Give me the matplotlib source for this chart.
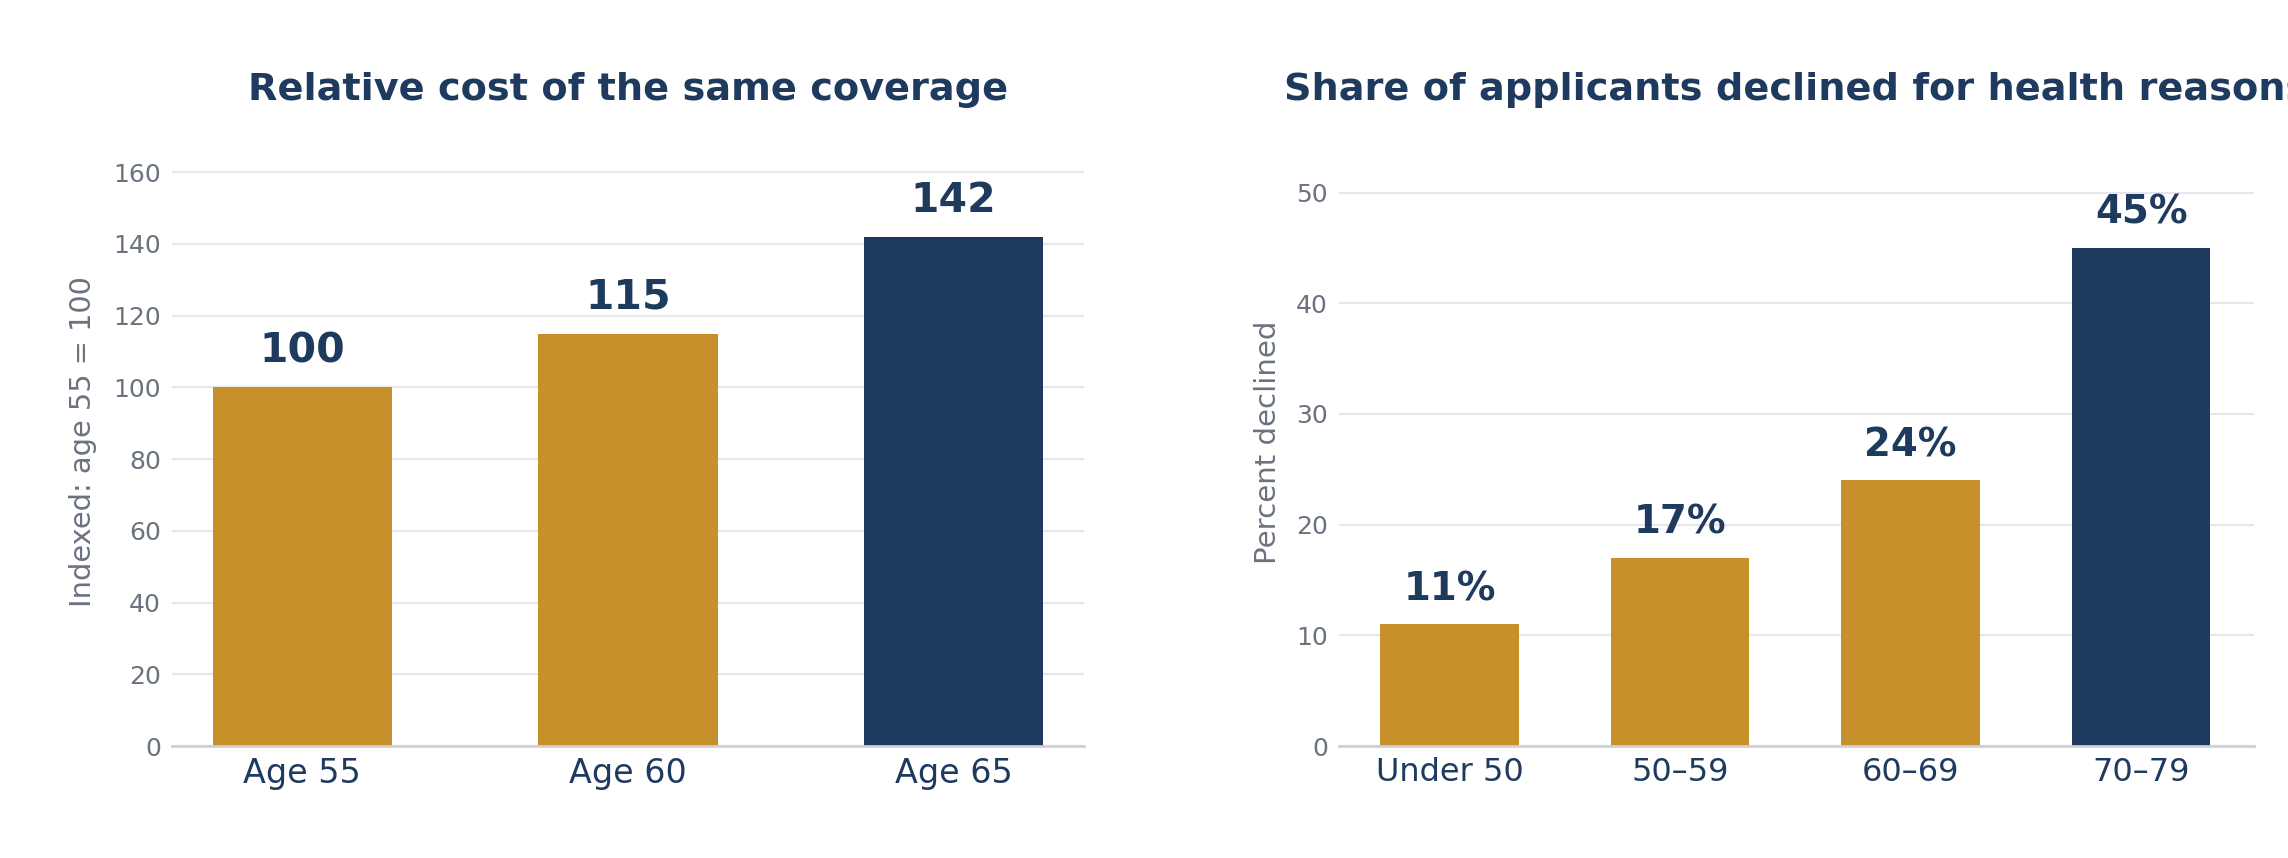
import matplotlib
matplotlib.use("Agg")
import matplotlib.pyplot as plt

# ---- data ----
cost_categories = ["Age 55", "Age 60", "Age 65"]
cost_values = [100, 115, 142]
cost_labels = ["100", "115", "142"]
cost_ticks = [0, 20, 40, 60, 80, 100, 120, 140, 160]

decline_categories = ["Under 50", "50–59", "60–69", "70–79"]
decline_values = [11, 17, 24, 45]
decline_labels = ["11%", "17%", "24%", "45%"]
decline_ticks = [0, 10, 20, 30, 40, 50]

title_left = "Relative cost of the same coverage"
title_right = "Share of applicants declined for health reasons"
ylabel_left = "Indexed: age 55 = 100"
ylabel_right = "Percent declined"

GOLD = "#C6912B"
NAVY = "#1F3A5F"
GRAY_TXT = "#6B7280"
GRID = "#E6E6EC"
SPINE = "#CFCFD6"

plt.rcParams["font.family"] = ["DejaVu Sans"]

W, H = 2288, 858
fig = plt.figure(figsize=(W / 100, H / 100), dpi=100)


def px_axes(x0, x1, ytop, ybot):
    return fig.add_axes([x0 / W, 1 - ybot / H, (x1 - x0) / W, (ybot - ytop) / H])


def style(ax, ticks, ylim, xlim, xfs):
    ax.set_ylim(*ylim)
    ax.set_xlim(*xlim)
    ax.set_yticks(ticks)
    ax.grid(axis="y", color=GRID, linewidth=1.6)
    ax.set_axisbelow(True)
    for s in ["top", "right", "left"]:
        ax.spines[s].set_visible(False)
    ax.spines["bottom"].set_color(SPINE)
    ax.spines["bottom"].set_linewidth(2)
    ax.tick_params(axis="y", length=0, pad=8, labelsize=18, labelcolor=GRAY_TXT)
    ax.tick_params(axis="x", length=0, pad=8, labelsize=xfs, labelcolor=NAVY)


# ---- left panel ----
ax1 = px_axes(172, 1084, 165, 746)
colors1 = [GOLD, GOLD, NAVY]
ax1.bar(cost_categories, cost_values, width=0.55, color=colors1, zorder=2)
style(ax1, cost_ticks, (0, 162), (-0.4, 2.4), 24)
for i, (v, lab) in enumerate(zip(cost_values, cost_labels)):
    ax1.annotate(lab, (i, v), xytext=(0, 36), textcoords="offset pixels",
                 ha="center", va="center", fontsize=29.5, fontweight="bold", color=NAVY)
fig.text(628 / W, 1 - 90.5 / H, title_left, ha="center", va="center",
         fontsize=27.5, fontweight="bold", color=NAVY)
fig.text(83 / W, 1 - 442 / H, ylabel_left, rotation=90, ha="center", va="center",
         fontsize=20.8, color=GRAY_TXT)

# ---- right panel ----
ax2 = px_axes(1339, 2254, 165, 746)
colors2 = [GOLD, GOLD, GOLD, NAVY]
ax2.bar(decline_categories, decline_values, width=0.6, color=colors2, zorder=2)
style(ax2, decline_ticks, (0, 52.5), (-0.48, 3.49), 23)
for i, (v, lab) in enumerate(zip(decline_values, decline_labels)):
    ax2.annotate(lab, (i, v), xytext=(0, 35), textcoords="offset pixels",
                 ha="center", va="center", fontsize=27.8, fontweight="bold", color=NAVY)
fig.text(1796 / W, 1 - 90.5 / H, title_right, ha="center", va="center",
         fontsize=27.5, fontweight="bold", color=NAVY)
fig.text(1268 / W, 1 - 442 / H, ylabel_right, rotation=90, ha="center", va="center",
         fontsize=21.1, color=GRAY_TXT)

fig.savefig("out.png", dpi=100, facecolor="white")
